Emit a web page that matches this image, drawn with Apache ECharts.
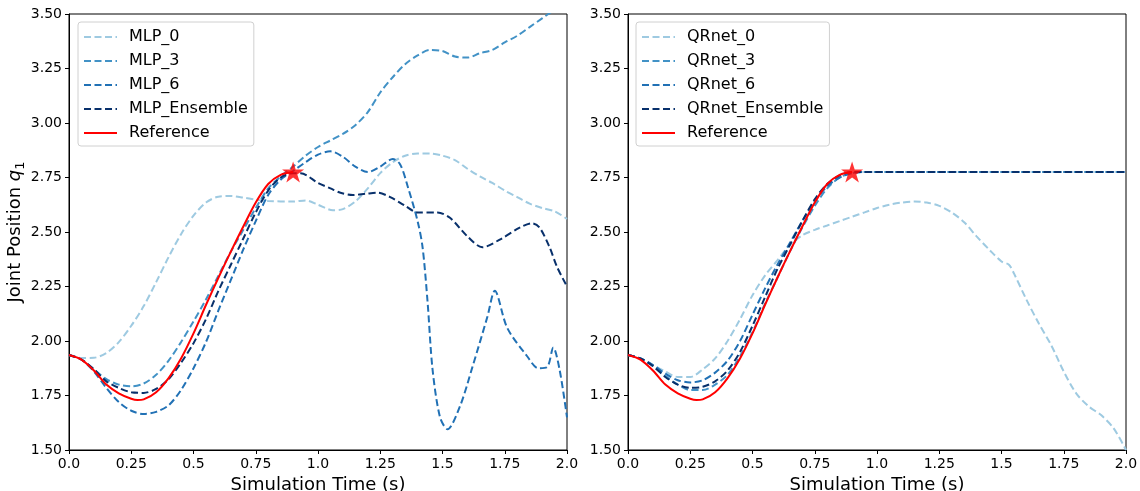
<!DOCTYPE html>
<html>
<head>
<meta charset="utf-8">
<script src="https://cdn.jsdelivr.net/npm/echarts@6/dist/echarts.min.js"></script>
<style>
  html, body { margin: 0; padding: 0; background: #fff; }
  #chart { width: 1140px; height: 491px; }
</style>
</head>
<body>
<div id="chart"></div>
<script>
// values: [time (s), q1]
var reference = [[0,1.936],[0.05,1.915],[0.1,1.865],[0.15,1.80],[0.2,1.76],[0.25,1.735],[0.275,1.729],[0.3,1.732],
  [0.35,1.765],[0.4,1.83],[0.45,1.92],[0.5,2.035],[0.55,2.165],[0.6,2.29],[0.65,2.41],[0.7,2.525],[0.75,2.635],
  [0.8,2.72],[0.85,2.762],[0.9,2.775]];

var mlp0 = [[0,1.936],[0.05,1.922],[0.1,1.923],[0.15,1.945],[0.2,1.995],[0.25,2.07],[0.3,2.16],[0.35,2.27],
  [0.4,2.385],[0.45,2.49],[0.5,2.575],[0.55,2.635],[0.6,2.662],[0.65,2.665],[0.7,2.658],[0.75,2.648],[0.8,2.642],
  [0.9,2.64],[0.95,2.645],[1.0,2.625],[1.06,2.60],[1.1,2.605],[1.15,2.64],[1.2,2.70],[1.25,2.77],[1.3,2.82],
  [1.35,2.85],[1.4,2.86],[1.45,2.86],[1.5,2.85],[1.55,2.83],[1.6,2.79],[1.65,2.755],[1.7,2.725],[1.75,2.69],
  [1.8,2.66],[1.85,2.63],[1.9,2.61],[1.95,2.595],[2.0,2.56]];
var mlp3 = [[0,1.936],[0.05,1.915],[0.1,1.87],[0.15,1.825],[0.2,1.80],[0.25,1.792],[0.3,1.805],[0.35,1.845],
  [0.4,1.91],[0.45,1.995],[0.5,2.09],[0.55,2.19],[0.6,2.30],[0.65,2.41],[0.7,2.51],[0.75,2.61],[0.8,2.70],
  [0.85,2.755],[0.9,2.80],[0.95,2.85],[1.0,2.89],[1.05,2.92],[1.1,2.95],[1.15,2.99],[1.2,3.05],[1.25,3.14],
  [1.3,3.21],[1.35,3.27],[1.4,3.31],[1.45,3.335],[1.5,3.33],[1.55,3.305],[1.6,3.30],[1.65,3.32],[1.7,3.335],
  [1.75,3.37],[1.8,3.40],[1.85,3.44],[1.9,3.48],[1.95,3.52],[2.0,3.56]];
var mlp6 = [[0,1.936],[0.05,1.915],[0.1,1.86],[0.15,1.785],[0.2,1.72],[0.25,1.68],[0.3,1.665],[0.35,1.675],
  [0.4,1.705],[0.45,1.775],[0.5,1.875],[0.55,1.995],[0.6,2.14],[0.65,2.28],[0.7,2.42],[0.75,2.55],[0.8,2.67],
  [0.85,2.74],[0.9,2.78],[0.95,2.82],[1.0,2.855],[1.05,2.87],[1.1,2.845],[1.15,2.80],[1.2,2.775],[1.25,2.80],
  [1.3,2.835],[1.33,2.81],[1.36,2.71],[1.4,2.55],[1.42,2.43],[1.44,2.18],[1.46,1.87],[1.49,1.65],[1.52,1.595],
  [1.57,1.70],[1.62,1.88],[1.68,2.11],[1.71,2.23],[1.76,2.06],[1.84,1.93],[1.885,1.875],[1.92,1.88],
  [1.945,1.97],[1.97,1.87],[2.0,1.65]];
var mlpEnsemble = [[0,1.936],[0.05,1.915],[0.1,1.87],[0.15,1.815],[0.2,1.785],[0.25,1.765],[0.3,1.762],
  [0.35,1.78],[0.4,1.825],[0.45,1.90],[0.5,1.99],[0.55,2.10],[0.6,2.23],[0.65,2.35],[0.7,2.47],[0.75,2.59],
  [0.8,2.69],[0.85,2.75],[0.9,2.77],[0.93,2.77],[1.0,2.725],[1.05,2.70],[1.09,2.68],[1.14,2.67],[1.19,2.675],
  [1.24,2.68],[1.29,2.66],[1.35,2.62],[1.4,2.59],[1.48,2.59],[1.53,2.565],[1.6,2.48],[1.66,2.43],[1.73,2.465],
  [1.81,2.52],[1.86,2.54],[1.89,2.52],[1.93,2.43],[1.96,2.34],[2.0,2.25]];

var qr0 = [[0,1.936],[0.05,1.92],[0.1,1.89],[0.15,1.86],[0.2,1.835],[0.25,1.835],[0.3,1.87],[0.35,1.92],
  [0.4,2.00],[0.45,2.10],[0.5,2.21],[0.55,2.30],[0.6,2.37],[0.65,2.44],[0.7,2.485],[0.75,2.51],[0.8,2.53],
  [0.85,2.55],[0.9,2.57],[0.95,2.59],[1.0,2.61],[1.05,2.625],[1.1,2.635],[1.15,2.64],[1.2,2.635],[1.25,2.62],
  [1.3,2.59],[1.35,2.545],[1.4,2.48],[1.45,2.42],[1.5,2.365],[1.53,2.35],[1.55,2.31],[1.6,2.19],[1.65,2.08],
  [1.7,1.98],[1.75,1.86],[1.8,1.76],[1.85,1.70],[1.9,1.66],[1.95,1.60],[2.0,1.50]];
var qr3 = [[0,1.936],[0.05,1.92],[0.1,1.885],[0.15,1.84],[0.2,1.80],[0.25,1.775],[0.3,1.775],[0.35,1.80],
  [0.4,1.845],[0.45,1.93],[0.5,2.04],[0.55,2.17],[0.6,2.29],[0.65,2.41],[0.7,2.52],[0.75,2.62],[0.8,2.70],
  [0.85,2.75],[0.9,2.77],[0.95,2.775],[2.0,2.775]];
var qr6 = [[0,1.936],[0.05,1.92],[0.1,1.89],[0.15,1.85],[0.2,1.82],[0.25,1.81],[0.3,1.82],[0.35,1.855],
  [0.4,1.91],[0.45,2.00],[0.5,2.12],[0.55,2.24],[0.6,2.35],[0.65,2.45],[0.7,2.55],[0.75,2.64],[0.8,2.71],
  [0.85,2.75],[0.9,2.77],[0.95,2.775],[2.0,2.775]];
var qrEnsemble = [[0,1.936],[0.05,1.92],[0.1,1.885],[0.15,1.835],[0.2,1.80],[0.25,1.785],[0.3,1.79],
  [0.35,1.815],[0.4,1.865],[0.45,1.95],[0.5,2.07],[0.55,2.20],[0.6,2.33],[0.65,2.44],[0.7,2.55],[0.75,2.65],
  [0.8,2.72],[0.85,2.76],[0.9,2.775],[2.0,2.775]];

var endPoint = [[0.9, 2.775]];

var xTickLabels = ['0.0','0.25','0.5','0.75','1.0','1.25','1.5','1.75','2.0'];
var leftNames = ['MLP_0','MLP_3','MLP_6','MLP_Ensemble','Reference'];
var rightNames = ['QRnet_0','QRnet_3','QRnet_6','QRnet_Ensemble','Reference'];
var blues = ['#9ecae1','#4292c6','#2171b5','#08306b'];

(function () {
  'use strict';
  var FONT = 'DejaVu Sans';
  var STAR = 'path://M50,0 L61.2,34.5 L97.6,34.5 L68.2,55.9 L79.4,90.5 L50,69.1 L20.6,90.5 L31.8,55.9 L2.4,34.5 L38.8,34.5 Z';

  function xAxis(idx) {
    return {
      type: 'value', gridIndex: idx, min: 0, max: 2, interval: 0.25,
      name: 'Simulation Time (s)', nameLocation: 'middle', nameGap: 23,
      nameTextStyle: { fontFamily: FONT, fontSize: 18, color: '#000' },
      axisLine: { lineStyle: { color: '#000', width: 1 } },
      axisTick: { length: 4, lineStyle: { color: '#000' } },
      axisLabel: {
        fontFamily: FONT, fontSize: 14, color: '#000', margin: 7,
        showMinLabel: true, showMaxLabel: true,
        formatter: function (v) { return xTickLabels[Math.round(v / 0.25)]; }
      },
      splitLine: { show: false }
    };
  }

  function yAxis(idx, withName) {
    var ax = {
      type: 'value', gridIndex: idx, min: 1.5, max: 3.5, interval: 0.25,
      axisLine: { show: true, lineStyle: { color: '#000', width: 1 } },
      axisTick: { show: true, length: 4, lineStyle: { color: '#000' } },
      axisLabel: {
        fontFamily: FONT, fontSize: 14, color: '#000', margin: 7,
        showMinLabel: true, showMaxLabel: true,
        formatter: function (v) { return v.toFixed(2); }
      },
      splitLine: { show: false }
    };
    if (withName) {
      ax.name = 'Joint Position {i|q}{s|1}';
      ax.nameLocation = 'middle';
      ax.nameGap = 38;
      ax.nameTextStyle = {
        fontFamily: FONT, fontSize: 18, color: '#000',
        rich: {
          i: { fontFamily: FONT, fontSize: 18, fontStyle: 'italic', color: '#000' },
          s: { fontFamily: FONT, fontSize: 13, color: '#000', padding: [10, 0, 0, 0] }
        }
      };
    }
    return ax;
  }

  function dashed(name, data, color, idx) {
    return {
      name: name, type: 'line', data: data, xAxisIndex: idx, yAxisIndex: idx,
      symbol: 'none', smooth: 0.3,
      lineStyle: { color: color, width: 2, type: [7, 3.5] },
      itemStyle: { color: color }
    };
  }

  function solid(name, data, idx) {
    return {
      name: name, type: 'line', data: data, xAxisIndex: idx, yAxisIndex: idx,
      symbol: 'none', smooth: 0.3, z: 3,
      lineStyle: { color: '#ff0000', width: 2 },
      itemStyle: { color: '#ff0000' }
    };
  }

  function star(idx) {
    return {
      type: 'scatter', data: endPoint, xAxisIndex: idx, yAxisIndex: idx,
      symbol: STAR, symbolSize: [22, 21], z: 5,
      itemStyle: { color: '#ff0000' }, silent: true
    };
  }

  function legend(names, left) {
    return {
      data: names, orient: 'vertical', left: left, top: 22,
      itemWidth: 33, itemHeight: 14, itemGap: 8,
      padding: [7, 6, 5, 5],
      borderColor: '#d0d0d0', borderWidth: 1, borderRadius: 3,
      backgroundColor: 'rgba(255,255,255,0.85)',
      itemStyle: { opacity: 0, color: 'transparent', borderWidth: 0 },
      textStyle: { fontFamily: FONT, fontSize: 16, color: '#000', padding: [0, 0, 0, 7] }
    };
  }

  var leftSets = [mlp0, mlp3, mlp6, mlpEnsemble];
  var rightSets = [qr0, qr3, qr6, qrEnsemble];
  var series = [];
  leftSets.forEach(function (d, i) { series.push(dashed(leftNames[i], d, blues[i], 0)); });
  series.push(solid('Reference', reference, 0));
  series.push(star(0));
  rightSets.forEach(function (d, i) { series.push(dashed(rightNames[i], d, blues[i], 1)); });
  series.push(solid('Reference', reference, 1));
  series.push(star(1));

  var option = {
    backgroundColor: '#fff',
    animation: false,
    grid: [
      { left: 69, top: 14, width: 498, height: 436, outerBoundsMode: 'none', show: true, borderColor: '#000', borderWidth: 1, backgroundColor: 'transparent' },
      { left: 628, top: 14, width: 498, height: 436, outerBoundsMode: 'none', show: true, borderColor: '#000', borderWidth: 1, backgroundColor: 'transparent' }
    ],
    legend: [legend(leftNames, 78), legend(rightNames, 636)],
    xAxis: [xAxis(0), xAxis(1)],
    yAxis: [yAxis(0, true), yAxis(1, false)],
    series: series
  };

  var chart = echarts.init(document.getElementById('chart'), null, { renderer: 'canvas' });
  chart.setOption(option);
})();
</script>
</body>
</html>
